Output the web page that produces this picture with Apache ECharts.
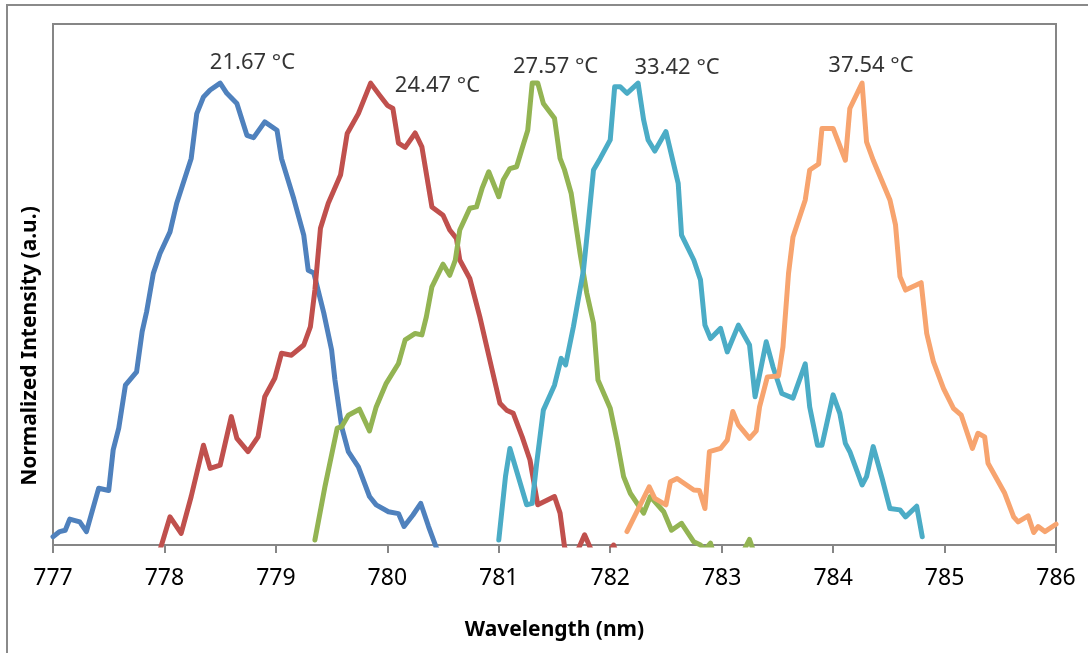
<!DOCTYPE html>
<html>
<head>
<meta charset="utf-8">
<script src="https://cdn.jsdelivr.net/npm/echarts@6/dist/echarts.min.js"></script>
<style>html,body{margin:0;padding:0;background:#fff}#c{width:1088px;height:653px}</style>
</head>
<body>
<div id="c"></div>
<script>
// Wavelength (nm) and normalized intensity (a.u.) per temperature
const s2167 = [[777.00,0.018],[777.06,0.029],[777.11,0.032],[777.15,0.056],[777.24,0.050],[777.30,0.029],[777.41,0.123],[777.50,0.118],[777.54,0.206],[777.59,0.253],[777.65,0.346],[777.75,0.375],[777.80,0.462],[777.84,0.505],[777.90,0.588],[777.96,0.631],[778.05,0.678],[778.11,0.740],[778.24,0.837],[778.29,0.934],[778.35,0.970],[778.41,0.985],[778.50,1.000],[778.56,0.978],[778.65,0.956],[778.74,0.887],[778.80,0.882],[778.90,0.916],[779.01,0.898],[779.05,0.837],[779.16,0.750],[779.25,0.671],[779.29,0.595],[779.34,0.589],[779.43,0.502],[779.50,0.422],[779.53,0.357],[779.59,0.256],[779.65,0.202],[779.74,0.169],[779.84,0.105],[779.90,0.087],[780.01,0.072],[780.10,0.068],[780.15,0.040],[780.23,0.065],[780.30,0.090],[780.37,0.040],[780.44,-0.006],[780.50,-0.030]];
const s2447 = [[777.93,-0.030],[777.96,-0.011],[778.05,0.061],[778.15,0.025],[778.24,0.105],[778.35,0.216],[778.41,0.166],[778.50,0.173],[778.60,0.278],[778.65,0.231],[778.75,0.202],[778.84,0.234],[778.90,0.321],[778.99,0.361],[779.05,0.415],[779.14,0.411],[779.25,0.433],[779.31,0.473],[779.35,0.552],[779.40,0.686],[779.47,0.740],[779.58,0.801],[779.64,0.891],[779.74,0.934],[779.85,1.000],[779.93,0.974],[780.00,0.952],[780.05,0.945],[780.10,0.870],[780.16,0.861],[780.25,0.892],[780.31,0.862],[780.40,0.732],[780.50,0.714],[780.56,0.682],[780.62,0.664],[780.65,0.617],[780.74,0.577],[780.83,0.494],[780.92,0.400],[781.01,0.307],[781.07,0.292],[781.13,0.285],[781.21,0.234],[781.28,0.184],[781.35,0.087],[781.50,0.105],[781.55,0.069],[781.59,-0.004],[781.66,-0.050],[781.71,-0.011],[781.77,0.022],[781.83,-0.011],[781.91,-0.050],[782.03,0.000],[782.04,0.004],[782.09,-0.040]];
const s2757 = [[779.35,0.011],[779.44,0.126],[779.55,0.253],[779.59,0.256],[779.65,0.281],[779.75,0.294],[779.84,0.247],[779.90,0.299],[779.99,0.350],[780.10,0.393],[780.16,0.444],[780.25,0.458],[780.31,0.455],[780.35,0.494],[780.40,0.559],[780.50,0.608],[780.56,0.584],[780.61,0.617],[780.65,0.682],[780.74,0.729],[780.80,0.732],[780.85,0.772],[780.91,0.808],[781.00,0.754],[781.04,0.790],[781.10,0.815],[781.16,0.819],[781.21,0.859],[781.26,0.898],[781.30,1.000],[781.35,1.000],[781.40,0.956],[781.50,0.924],[781.55,0.837],[781.59,0.812],[781.65,0.761],[781.73,0.631],[781.79,0.545],[781.85,0.480],[781.89,0.357],[782.00,0.296],[782.06,0.227],[782.12,0.148],[782.18,0.112],[782.30,0.069],[782.36,0.105],[782.48,0.072],[782.55,0.032],[782.64,0.047],[782.75,0.007],[782.81,0.000],[782.85,-0.010],[782.90,0.004],[782.94,-0.030],[783.05,-0.040],[783.16,-0.030],[783.25,0.012],[783.31,-0.030]];
const s3342 = [[781.00,0.011],[781.06,0.148],[781.10,0.209],[781.25,0.087],[781.30,0.090],[781.34,0.177],[781.40,0.292],[781.50,0.346],[781.56,0.404],[781.60,0.390],[781.67,0.473],[781.76,0.595],[781.80,0.689],[781.85,0.812],[781.91,0.837],[782.00,0.877],[782.04,0.992],[782.09,0.992],[782.15,0.978],[782.25,1.000],[782.30,0.920],[782.34,0.877],[782.40,0.853],[782.50,0.895],[782.61,0.783],[782.64,0.671],[782.75,0.617],[782.81,0.574],[782.85,0.476],[782.90,0.447],[782.99,0.469],[783.05,0.418],[783.15,0.476],[783.25,0.433],[783.30,0.321],[783.40,0.440],[783.46,0.386],[783.54,0.328],[783.64,0.318],[783.75,0.392],[783.79,0.299],[783.86,0.216],[783.90,0.216],[784.00,0.325],[784.06,0.285],[784.11,0.220],[784.15,0.202],[784.26,0.130],[784.30,0.148],[784.36,0.213],[784.44,0.144],[784.51,0.079],[784.60,0.076],[784.65,0.061],[784.75,0.084],[784.80,0.018]];
const s3754 = [[782.15,0.029],[782.35,0.126],[782.40,0.101],[782.50,0.087],[782.54,0.137],[782.60,0.144],[782.75,0.119],[782.80,0.118],[782.85,0.079],[782.89,0.202],[782.99,0.209],[783.05,0.227],[783.10,0.289],[783.15,0.260],[783.25,0.231],[783.31,0.247],[783.34,0.299],[783.41,0.364],[783.51,0.366],[783.55,0.429],[783.60,0.588],[783.64,0.667],[783.75,0.747],[783.79,0.812],[783.87,0.825],[783.90,0.902],[784.00,0.902],[784.11,0.833],[784.15,0.945],[784.26,1.000],[784.30,0.873],[784.36,0.833],[784.51,0.747],[784.56,0.693],[784.60,0.581],[784.65,0.552],[784.79,0.568],[784.84,0.458],[784.90,0.397],[784.99,0.339],[785.08,0.296],[785.15,0.281],[785.25,0.209],[785.30,0.242],[785.36,0.234],[785.39,0.177],[785.54,0.112],[785.62,0.061],[785.66,0.050],[785.75,0.063],[785.80,0.027],[785.84,0.040],[785.90,0.029],[786.00,0.045]];

const seriesNames = ['21.67 °C','24.47 °C','27.57 °C','33.42 °C','37.54 °C'];
const seriesData = [s2167, s2447, s2757, s3342, s3754];
const seriesColors = ['#4F81BD','#C0504D','#93B453','#4BACC6','#F7A46F'];

// Peak annotations: [wavelength, intensity]
const labelX = [778.79, 780.45, 781.51, 782.60, 784.34];
const labelY = [1.045, 0.995, 1.036, 1.034, 1.038];

const xTickMin = 777, xTickMax = 786, xTickStep = 1;

const chart = echarts.init(document.getElementById('c'), null, {renderer:'canvas'});
const lineSeries = seriesData.map((d,i)=>({
  name: seriesNames[i], type:'line', data:d, showSymbol:false, symbol:'none',
  lineStyle:{width:5, color:seriesColors[i], join:'round', cap:'round'},
  itemStyle:{color:seriesColors[i]}, clip:true, z:2+i
}));
const labelSeries = {
  type:'scatter', symbolSize:0, silent:true, z:10,
  data: labelX.map((x,i)=>({value:[x,labelY[i]], name:seriesNames[i]})),
  label:{show:true, position:'inside', formatter:p=>p.name, fontFamily:'Noto Sans', fontSize:22, color:'#000', textBorderWidth:0}
};
chart.setOption({
  animation:false,
  backgroundColor:'#fff',
  grid:{left:53, right:32, top:24, bottom:108, show:true, borderColor:'#868686', borderWidth:2, backgroundColor:'transparent'},
  xAxis:{type:'value', min:xTickMin, max:xTickMax, interval:xTickStep,
    axisLine:{show:true, onZero:false, lineStyle:{color:'#868686', width:2}},
    axisTick:{show:true, length:8, lineStyle:{color:'#868686', width:2}},
    axisLabel:{fontFamily:'Noto Sans', fontSize:23, color:'#000', margin:22},
    splitLine:{show:false},
    name:'Wavelength (nm)', nameLocation:'middle', nameGap:75,
    nameTextStyle:{fontFamily:'Noto Sans', fontWeight:'bold', fontSize:21, color:'#000'}
  },
  yAxis:{type:'value', min:0, max:1.128,
    axisLine:{show:true, lineStyle:{color:'#868686', width:2}},
    axisTick:{show:false}, axisLabel:{show:false}, splitLine:{show:false}
  },
  graphic:[
    {type:'rect', shape:{x:7,y:5,width:1200,height:800}, style:{fill:'none', stroke:'#8a8a8a', lineWidth:2}, silent:true, z:0},
    {type:'text', x:30, y:346, rotation:Math.PI/2, style:{text:'Normalized Intensity (a.u.)', fontFamily:'Noto Sans', fontWeight:'bold', fontSize:21, fill:'#000', align:'center', verticalAlign:'middle'}}
  ],
  series:[...lineSeries, labelSeries]
});
</script>
</body>
</html>
